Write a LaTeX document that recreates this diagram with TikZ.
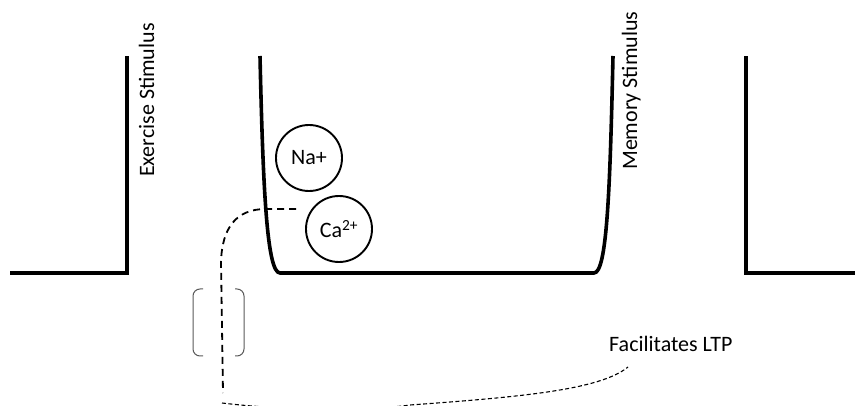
\documentclass[tikz,border=0pt]{standalone}
\usepackage{fontspec}
\setmainfont{Carlito}
\begin{document}
\begin{tikzpicture}[x=1pt,y=-1pt,
  wall/.style={line width=3.6pt, line join=miter},
  ion/.style={circle, draw, line width=1.9pt, minimum size=66pt, inner sep=0pt, font=\fontsize{22}{26}\selectfont},
  lbl/.style={font=\fontsize{22}{26}\selectfont, inner sep=0pt},
  conn/.style={dash pattern=on 7pt off 5pt, line width=1.8pt},
  fine/.style={dash pattern=on 4pt off 2.5pt, line width=1.1pt},
  brk/.style={line width=1pt, black!65, rounded corners=7pt}]
\clip (0,0) rectangle (855,406);
% stimulus steps
\draw[wall] (10,273) -- (127,273) -- (127,56);
\draw[wall] (860,273) -- (746,273) -- (746,56);
% bucket
\draw[wall] (260,56) .. controls (263,190) and (267,273) .. (280,273) -- (594,273) .. controls (607,273) and (610,190) .. (613,56);
% ions
\node[ion] (na) at (309,158) {Na+};
\node[ion] (ca) at (339,229) {Ca\textsuperscript{2+}};
% labels
\node[lbl, rotate=90, anchor=base west] (ex) at (154,177) {Exercise Stimulus};
\node[lbl, rotate=90, anchor=base west] (mem) at (637,170) {Memory Stimulus};
\node[lbl, anchor=base west] (ltp) at (609,352) {Facilitates LTP};
% dashed connector
\coordinate (c1) at (296,209);
\coordinate (c2) at (223,393);
\draw[conn] (c1) -- (266,209) .. controls (236,209) and (222,228) .. (221,262) -- (c2);
% bracket
\draw[brk] (203,289) -- (193,289) -- (193,356) -- (203,356);
\draw[brk] (235,289) -- (244,289) -- (244,356) -- (235,356);
% lower fine dashed connector
\coordinate (d1) at (222,403);
\coordinate (d2) at (628,367);
\draw[fine] (d1) .. controls (280,410) and (360,412) .. (410,405) .. controls (520,397) and (600,390) .. (d2);
\end{tikzpicture}
\end{document}
